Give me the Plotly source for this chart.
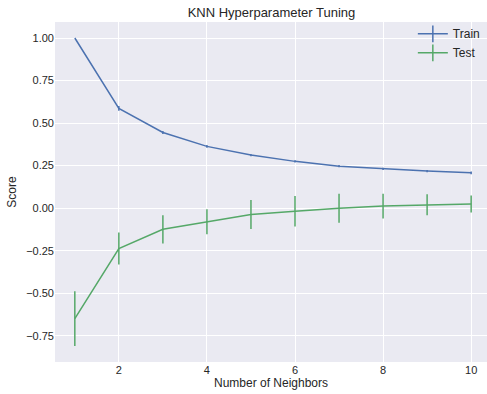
import plotly.graph_objects as go

neighbors = [1, 2, 3, 4, 5, 6, 7, 8, 9, 10]
train_mean = [1.0, 0.586, 0.445, 0.363, 0.312, 0.275, 0.247, 0.231, 0.218, 0.208]
train_std = [0.0, 0.014, 0.009, 0.008, 0.007, 0.007, 0.006, 0.007, 0.007, 0.008]
test_mean = [-0.649, -0.237, -0.124, -0.080, -0.037, -0.018, 0.0, 0.012, 0.020, 0.025]
test_std = [0.161, 0.094, 0.083, 0.074, 0.085, 0.090, 0.085, 0.072, 0.062, 0.050]
y_ticks = [-0.75, -0.50, -0.25, 0.00, 0.25, 0.50, 0.75, 1.00]
x_ticks = [2, 4, 6, 8, 10]

BLUE = "#4C72B0"
GREEN = "#55A868"
FONT = "Liberation Sans, Arial, sans-serif"

fig = go.Figure()
for name, mean, std, col in [("Train", train_mean, train_std, BLUE),
                             ("Test", test_mean, test_std, GREEN)]:
    fig.add_trace(go.Scatter(
        x=neighbors, y=mean, mode="lines", name=name, showlegend=False,
        line=dict(color=col, width=1.5),
        error_y=dict(type="data", array=std, visible=True, color=col,
                     thickness=1.5, width=0),
    ))
    # legend entry imitating an errorbar handle
    fig.add_trace(go.Scatter(
        x=[None], y=[None], mode="lines+markers", name=name,
        line=dict(color=col, width=1.5),
        marker=dict(symbol="line-ns-open", size=12,
                    line=dict(color=col, width=1.5)),
    ))

fig.update_layout(
    width=487, height=394,
    margin=dict(l=55, r=0, t=22, b=32),
    paper_bgcolor="white", plot_bgcolor="#EAEAF2",
    font=dict(family=FONT, size=11, color="#262626"),
    title=dict(text="KNN Hyperparameter Tuning", x=0.5575, xanchor="center",
               y=1 - 12 / 394, yanchor="middle", yref="container",
               font=dict(size=13, color="#262626")),
    legend=dict(x=0.995, y=1.008, xanchor="right", yanchor="top",
                bgcolor="rgba(0,0,0,0)", font=dict(size=12),
                itemwidth=30, tracegroupgap=0),
)
fig.update_xaxes(range=[0.55, 10.36], tickvals=x_ticks, showgrid=True,
                 gridcolor="white", gridwidth=1, zeroline=False,
                 ticks="", showline=False,
                 title=dict(text="Number of Neighbors", font=dict(size=12), standoff=3),
                 automargin=False)
fig.update_yaxes(range=[-0.904, 1.094], tickvals=y_ticks, tickformat=".2f",
                 showgrid=True, gridcolor="white", gridwidth=1, zeroline=False,
                 ticks="", showline=False,
                 title=dict(text="Score", font=dict(size=12), standoff=6),
                 automargin=False)

fig.write_html("out.html", config={"displayModeBar": False},
               post_script="document.body.style.margin='0';document.body.style.overflow='hidden';")
